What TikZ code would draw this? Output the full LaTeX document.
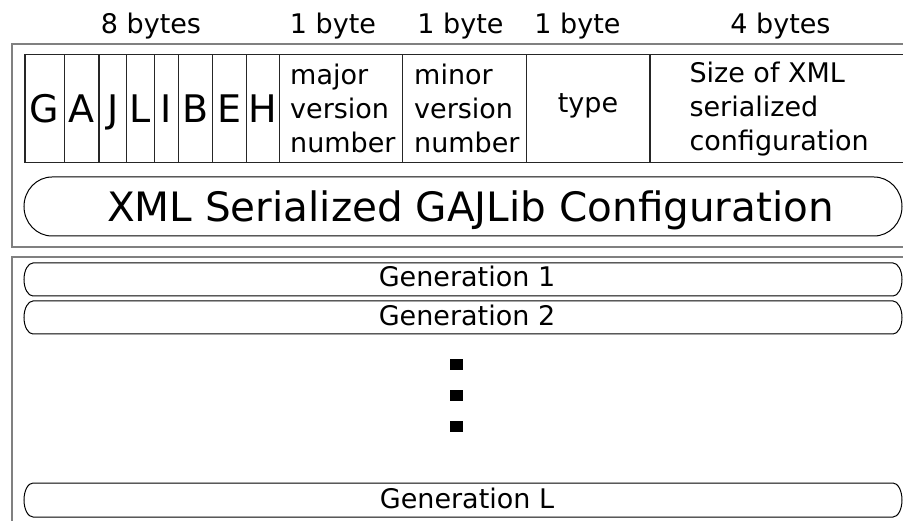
\documentclass[tikz,border=0pt]{standalone}
\usepackage{fontspec}
\setmainfont{DejaVu Sans}
\begin{document}
\begin{tikzpicture}[x=1pt,y=-1pt,
  outerbox/.style={draw=black!50,line width=1.5pt},
  cellbox/.style={draw=black!85,line width=1.3pt,inner sep=0pt,outer sep=0pt,rectangle},
  pillline/.style={draw=black,line width=1pt},
  lbl/.style={inner sep=0pt,font=\fontsize{27}{34}\selectfont},
  letter/.style={inner sep=0pt,font=\fontsize{38}{44}\selectfont},
  multi/.style={inner sep=0pt,align=left,font=\fontsize{27}{34}\selectfont,anchor=north west},
  big/.style={inner sep=0pt,font=\fontsize{40.5}{48}\selectfont}]
\clip (0,0) rectangle (903,521);
\fill[white] (0,0) rectangle (903,521);
% outer boxes
\draw[outerbox] (930,44) -- (12,44) -- (12,247) -- (930,247);
\draw[outerbox] (930,257) -- (12,257) -- (12,540);
% byte labels
\node[lbl,anchor=base] (l8) at (151,34) {8 bytes};
\node[lbl,anchor=base] (l1a) at (333,34) {1 byte};
\node[lbl,anchor=base] (l1b) at (460.5,34) {1 byte};
\node[lbl,anchor=base] (l1c) at (577.5,34) {1 byte};
\node[lbl,anchor=base] (l4) at (780.5,34) {4 bytes};
% header cells
\foreach \a/\b/\n in {25/64.3/cG,64.3/99/cA,99/126.7/cJ,126.7/154.3/cL,154.3/178.3/cI,178.3/212.3/cB,212.3/246.7/cE,246.7/279.3/cH,279.3/402.3/cmaj,402.3/526.7/cmin,526.7/650/ctype,650/915/csize}{
  \node[cellbox,minimum width={(\b-\a)*1pt},minimum height=108.5pt] (\n) at ({(\a+\b)/2},108.5) {};
}
\foreach \n/\t in {cG/G,cA/A,cJ/J,cL/L,cI/I,cB/B,cE/E,cH/H}{
  \node[letter,anchor=base] (t\n) at (\n.center |- 0,122.5) {\t};
}
\node[multi] (tmaj) at (290,63.5) {major\\version\\number};
\node[multi] (tmin) at (414,63.5) {minor\\version\\number};
\node[lbl,anchor=base] (ttype) at (588,113) {type};
\node[multi] (tsize) at (689.3,61.5) {Size of XML\\serialized\\configuration};
% big pill
\draw[pillline] (52,177) -- (874,177) arc (-90:90:28 and 29.5) -- (52,236) arc (90:270:28 and 29.5) -- cycle;
\node[big,anchor=base] (xml) at (470.5,221.5) {XML Serialized GAJLib Configuration};
% generation pills
\draw[pillline] (33,263) -- (893,263) arc (-90:90:9 and 16.5) -- (33,296) arc (90:270:9 and 16.5) -- cycle;
\node[lbl,anchor=base] (g1) at (467,287) {Generation 1};
\draw[pillline] (33,301) -- (893,301) arc (-90:90:9 and 16.5) -- (33,334) arc (90:270:9 and 16.5) -- cycle;
\node[lbl,anchor=base] (g2) at (467,325.5) {Generation 2};
\draw[pillline] (33,483) -- (893,483) arc (-90:90:9 and 17) -- (33,517) arc (90:270:9 and 17) -- cycle;
\node[lbl,anchor=base] (gL) at (467,508) {Generation L};
% dots
\fill[black] (450,359) rectangle (463,370);
\fill[black] (450,390) rectangle (463,401);
\fill[black] (450,421) rectangle (463,432);
\end{tikzpicture}
\end{document}
